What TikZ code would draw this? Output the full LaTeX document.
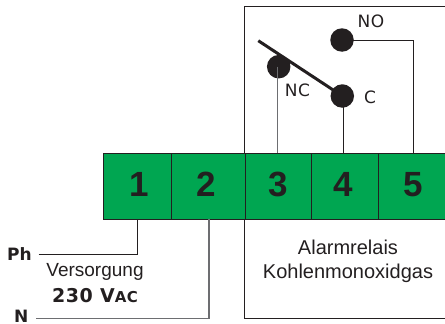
\documentclass[tikz,border=0pt]{standalone}
\usepackage{fontspec}
\setmainfont{Liberation Sans}
\newfontfamily\dejavu{DejaVu Sans}
\definecolor{ink}{HTML}{231F20}
\definecolor{termgreen}{HTML}{00A651}
\definecolor{wiregray}{HTML}{6D6E71}
\tikzset{
  cellbox/.style={draw=ink,line width=1pt,fill=termgreen,inner sep=0pt,anchor=north west,minimum height=66pt},
  digit/.style={text=ink,font=\fontsize{35}{35}\selectfont\bfseries,inner sep=0pt},
  contact/.style={circle,fill=ink,inner sep=0pt,minimum size=23.5pt},
  wire/.style={draw=ink,line width=1pt},
  graywire/.style={draw=wiregray,line width=1.1pt},
  tag/.style={text=ink,font=\dejavu\fontsize{17}{17}\selectfont\bfseries,inner sep=0pt},
  voltage/.style={text=ink,font=\dejavu\addfontfeature{LetterSpace=3}\fontsize{19}{19}\selectfont\bfseries,inner sep=0pt},
  plain/.style={text=ink,font=\fontsize{20}{20}\selectfont,inner sep=0pt},
  versorg/.style={text=ink,font=\fontsize{19}{19}\selectfont,inner sep=0pt},
  contactlabel/.style={text=ink,font=\dejavu\addfontfeature{LetterSpace=4}\fontsize{17}{17}\selectfont,inner sep=0pt}
}
\begin{document}
\begin{tikzpicture}[x=1pt,y=-1pt]
\useasboundingbox (0,0) rectangle (445,324);
\clip (0,0) rectangle (445,324);
% relay frame
\draw[wire] (450,6) -- (244.5,6) -- (244.5,318) -- (450,318);
% terminal cells
\node[cellbox,minimum width=68pt] (c1) at (102.5,152.5) {};
\node[cellbox,minimum width=74pt] (c2) at (170.5,152.5) {};
\node[cellbox,minimum width=66.5pt] (c3) at (244.5,152.5) {};
\node[cellbox,minimum width=67pt] (c4) at (311,152.5) {};
\node[cellbox,minimum width=80pt] (c5) at (378,152.5) {};
\node[digit] (d1) at (139,184.5) {1};
\node[digit] (d2) at (206,184.5) {2};
\node[digit] (d3) at (278,184.5) {3};
\node[digit] (d4) at (343.7,184.5) {4};
\node[digit] (d5) at (413,184.5) {5};
% contacts
\node[contact] (no) at (342,40) {};
\node[contact] (nc) at (278.7,66.7) {};
\node[contact] (com) at (342.3,96) {};
\coordinate (levertip) at (258.3,40.7);
\draw[draw=ink,line width=3pt] (levertip) -- (com.center);
% relay wires
\coordinate (t3) at (277.5,152.5);
\coordinate (t4) at (343.5,152.5);
\coordinate (t5) at (413.3,152.5);
\draw[graywire] (t3 |- nc.center) -- (t3);
\draw[wire] (t4 |- com.center) -- (t4);
\draw[wire] (no.center) -| (t5);
% supply
\node[tag,anchor=base west] (ph) at (7,260) {Ph};
\node[tag,anchor=base west] (n) at (14,322.5) {N};
\coordinate (t1) at (137.5,218.5);
\coordinate (t2) at (209,218.5);
\coordinate (phend) at (38.5,254);
\coordinate (nend) at (36,318.5);
\draw[wire] (phend) -| (t1);
\draw[graywire] (nend) -| (t2);
% texts
\node[versorg] (vers) at (95,272) {Versorgung};
\node[voltage] (vac) at (95,296) {230 V\fontsize{15}{15}\selectfont AC};
\node[plain] (al) at (348,247) {Alarmrelais};
\node[plain] (ko) at (348,273) {Kohlenmonoxidgas};
\node[contactlabel] (lno) at (371,21) {NO};
\node[contactlabel] (lnc) at (297.5,90) {NC};
\node[contactlabel] (lc) at (370,97) {C};
\end{tikzpicture}
\end{document}
